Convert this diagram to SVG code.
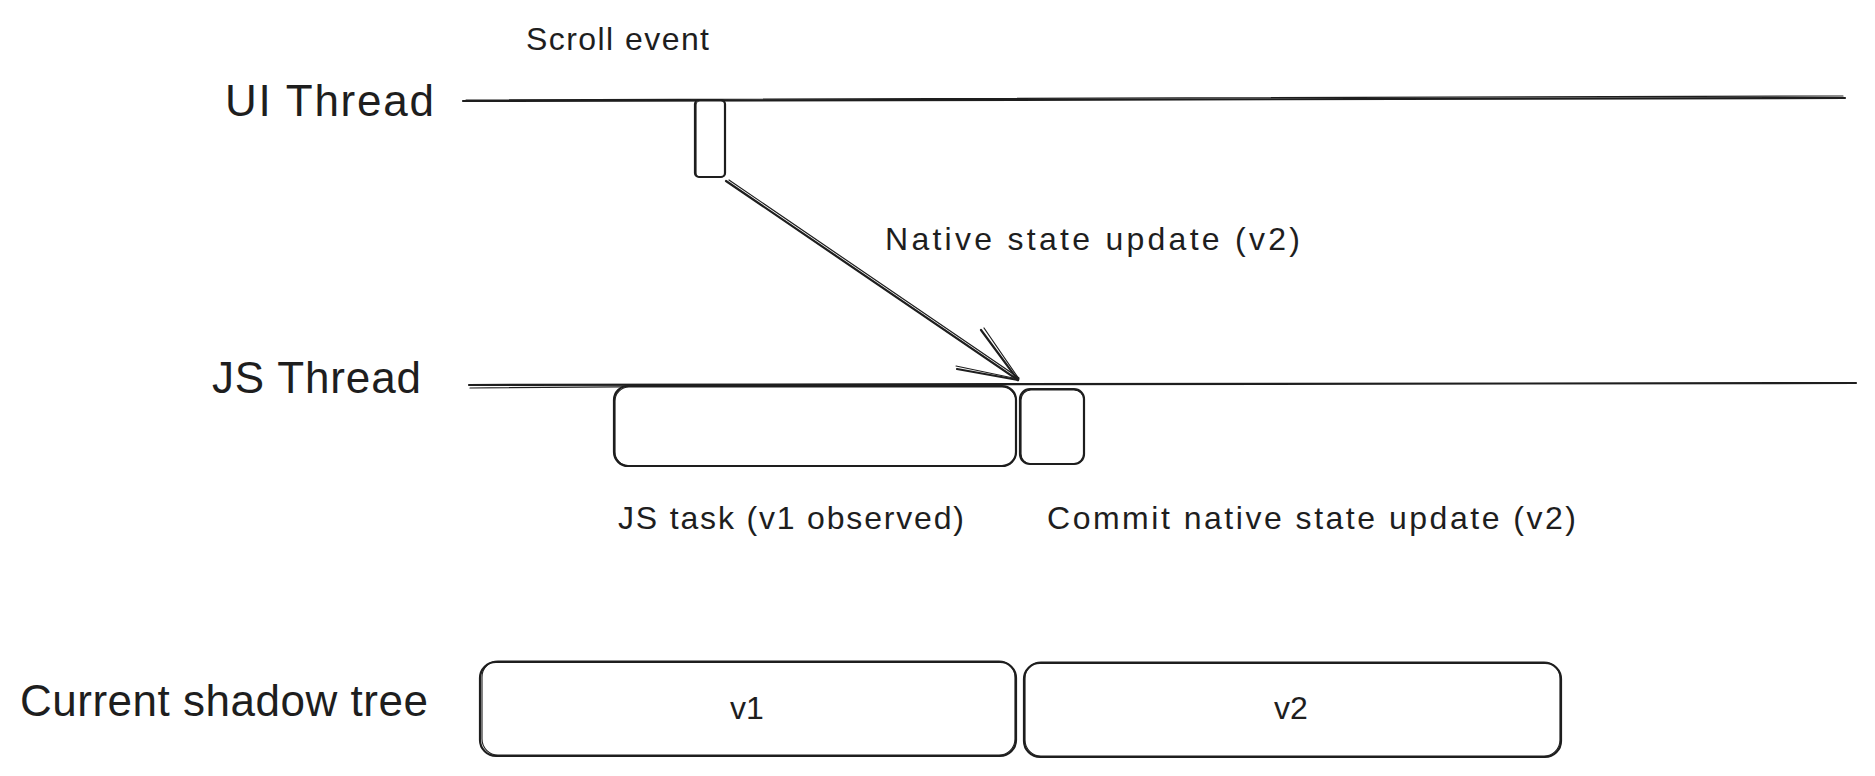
<svg xmlns="http://www.w3.org/2000/svg" width="1875" height="776" viewBox="0 0 1875 776">
<style>
.bg{fill:#ffffff}
.ln{fill:none;stroke:#1e1e1e;stroke-width:2.2;stroke-linecap:round;stroke-linejoin:round}
.ln2{fill:none;stroke:#1e1e1e;stroke-width:1.2;stroke-linecap:round;stroke-linejoin:round}
.box{fill:#ffffff;stroke:#1e1e1e;stroke-width:2.2}
.box2{fill:none;stroke:#1e1e1e;stroke-width:1.1}
.big{font-family:"Liberation Sans",Arial,sans-serif;font-size:44px;fill:#1e1e1e}
.sm{font-family:"Liberation Sans",Arial,sans-serif;font-size:32px;fill:#1e1e1e}
</style>
<rect class="bg" x="0" y="0" width="1875" height="776"/>

<g id="ui-thread">
<text class="big" x="225" y="116" textLength="209">UI Thread</text>
<path class="ln" d="M463 101 L1845 98"/>
<path class="ln2" d="M466 100 L1843 96"/>
</g>

<g id="scroll-event">
<text class="sm" x="526" y="50" textLength="183">Scroll event</text>
<rect class="box" x="695" y="100" width="30" height="77" rx="4"/>
<rect class="box2" x="696" y="101" width="29" height="76" rx="4"/>
</g>

<g id="js-thread">
<text class="big" x="212" y="393" textLength="209">JS Thread</text>
<path class="ln" d="M469 385 L1856 383"/>
<path class="ln2" d="M470 388 L1020 384"/>
</g>

<g id="js-task">
<rect class="box" x="614" y="386" width="402" height="80" rx="14"/>
<rect class="box2" x="615" y="387" width="401" height="79" rx="14"/>
<text class="sm" x="618" y="529" textLength="346">JS task (v1 observed)</text>
</g>

<g id="commit">
<rect class="box" x="1020" y="389" width="64" height="75" rx="10"/>
<rect class="box2" x="1021" y="390" width="63" height="74" rx="10"/>
<text class="sm" x="1047" y="529" textLength="529">Commit native state update (v2)</text>
</g>

<g id="shadow-tree">
<text class="big" x="20" y="716" textLength="408">Current shadow tree</text>
</g>

<g id="v1">
<rect class="box" x="480" y="662" width="536" height="94" rx="16"/>
<rect class="box2" x="482" y="661" width="533" height="94" rx="16"/>
<text class="sm" x="747" y="719" text-anchor="middle">v1</text>
</g>

<g id="v2">
<rect class="box" x="1024" y="663" width="537" height="94" rx="16"/>
<rect class="box2" x="1025" y="662" width="535" height="94" rx="16"/>
<text class="sm" x="1291" y="719" text-anchor="middle">v2</text>
</g>

<g id="connectors">
<path class="ln" d="M726 181 L1018 380"/>
<path class="ln2" d="M729 180 L1019 378"/>
<path class="ln" d="M981 330 L1018 380"/>
<path class="ln2" d="M984 328 L1019 379"/>
<path class="ln" d="M957 369 L1018 380"/>
<path class="ln2" d="M956 366 L1018 379"/>
<text class="sm" x="885" y="250" textLength="415">Native state update (v2)</text>
</g>
</svg>
